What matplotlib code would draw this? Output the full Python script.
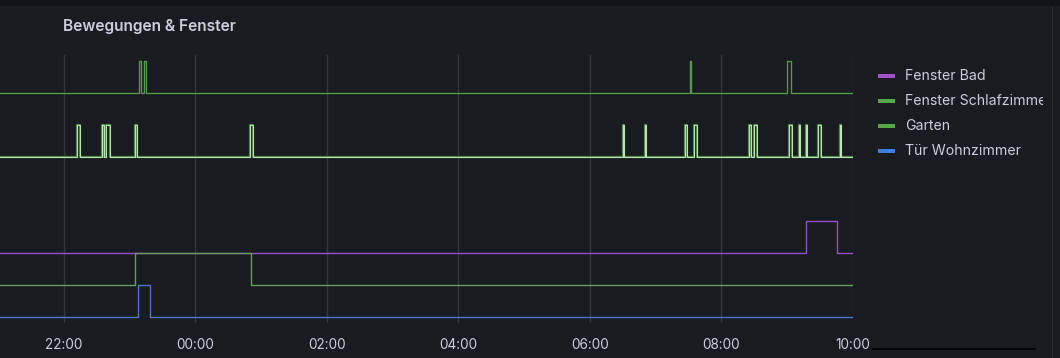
import datetime as dt
import matplotlib
matplotlib.use('Agg')
import matplotlib.pyplot as plt
import matplotlib.dates as mdates
from matplotlib.patches import Rectangle

plt.rcParams['font.family'] = ['Inter', 'DejaVu Sans']

DAY0 = dt.datetime(2023, 5, 1)
T_START = "21:02"
T_END = "10:00"

# on-intervals per series (HH:MM start, HH:MM end)
top_green = [("23:09", "23:11"), ("23:13", "23:15"), ("07:31", "07:32"), ("09:00", "09:03")]
garten = [("22:12", "22:15"), ("22:35", "22:37"), ("22:39", "22:42"), ("23:05", "23:07"),
          ("00:50", "00:53"), ("06:30", "06:31"), ("06:50", "06:51"), ("07:27", "07:29"),
          ("07:35", "07:38"), ("08:25", "08:27"), ("08:30", "08:32"), ("09:02", "09:04"),
          ("09:11", "09:12"), ("09:17", "09:18"), ("09:28", "09:31"), ("09:48", "09:49")]
fenster_bad = [("09:17", "09:45")]
fenster_schlaf = [("23:05", "00:51")]
tuer_wohn = [("23:08", "23:19")]

offsets = [7, 5, 2, 1, 0]

legend_labels = ["Fenster Bad", "Fenster Schlafzimmer", "Garten", "Tür Wohnzimmer"]
legend_colors = ["#a352cc", "#56a64b", "#56a64b", "#3d7ee0"]

BG = "#181b1f"
TXT = "#ccccdc"


def to_time(s):
    h, m = map(int, s.split(":"))
    d = DAY0 if h >= 12 else DAY0 + dt.timedelta(days=1)
    return d.replace(hour=h, minute=m)


def steps(intervals, base):
    xs = [to_time(T_START)]
    ys = [base]
    for a, b in intervals:
        xs += [to_time(a), to_time(b)]
        ys += [base + 1, base]
    xs.append(to_time(T_END))
    ys.append(base)
    return xs, ys


fig = plt.figure(figsize=(10.6, 3.58), dpi=100, facecolor=BG)
fig.patches.append(Rectangle((0, 1 - 6 / 358), 1, 6 / 358, transform=fig.transFigure,
                             facecolor="#111217", edgecolor="none"))

ax = fig.add_axes([0, 35 / 358, 853 / 1060, 268 / 358])
ax.set_facecolor(BG)

x, y = steps(top_green, offsets[0])
ax.plot(x, y, drawstyle="steps-post", color="#4f9a45", lw=1.0)
x, y = steps(garten, offsets[1])
ax.plot(x, y, drawstyle="steps-post", color="#4f8a47", lw=1.6)
ax.plot(x, y, drawstyle="steps-post", color="#bfe6b8", lw=0.7)
x, y = steps(fenster_bad, offsets[2])
ax.plot(x, y, drawstyle="steps-post", color="#9a4fc4", lw=1.0)
x, y = steps(fenster_schlaf, offsets[3])
ax.plot(x, y, drawstyle="steps-post", color="#6b9a5d", lw=1.0)
x, y = steps(tuer_wohn, offsets[4])
ax.plot(x, y, drawstyle="steps-post", color="#4f76c8", lw=1.0)

ax.set_xlim(to_time(T_START), to_time(T_END))
ax.set_ylim(-0.19, 8.19)
ax.xaxis.set_major_locator(mdates.HourLocator(byhour=range(0, 24, 2)))
ax.xaxis.set_major_formatter(mdates.DateFormatter("%H:%M"))
ax.grid(axis="x", color="#34373d", lw=1)
ax.set_yticks([])
ax.tick_params(axis="x", length=0, pad=11, colors=TXT, labelsize=9.8)
for s in ax.spines.values():
    s.set_visible(False)

fig.text(63 / 1060, 1 - 27 / 358, "Bewegungen & Fenster", color=TXT, fontsize=11.2,
         fontweight="semibold", va="center", ha="left")

for i, (lab, col) in enumerate(zip(legend_labels, legend_colors)):
    yc = 76 + 25 * i
    fig.patches.append(Rectangle((878 / 1060, 1 - (yc + 2) / 358), 17 / 1060, 4 / 358,
                                 transform=fig.transFigure, facecolor=col, edgecolor="none"))
    fig.text(905 / 1060, 1 - yc / 358, lab, color=TXT, fontsize=10.2, va="center", ha="left")

# cover overflowing legend text, then right border of the panel
fig.add_artist(Rectangle((1043 / 1060, 0), 17 / 1060, 1 - 6 / 358, transform=fig.transFigure,
                         facecolor=BG, edgecolor="none", zorder=10))
fig.add_artist(Rectangle((1052 / 1060, 0), 1 / 1060, 1 - 6 / 358, transform=fig.transFigure,
                         facecolor="#2a2d33", edgecolor="none", zorder=11))

fig.add_artist(plt.Line2D([873 / 1060, 1035 / 1060], [1 - 349 / 358] * 2,
                          transform=fig.transFigure, color="black", lw=1.2))

fig.savefig("out.png", dpi=100, facecolor=BG)
